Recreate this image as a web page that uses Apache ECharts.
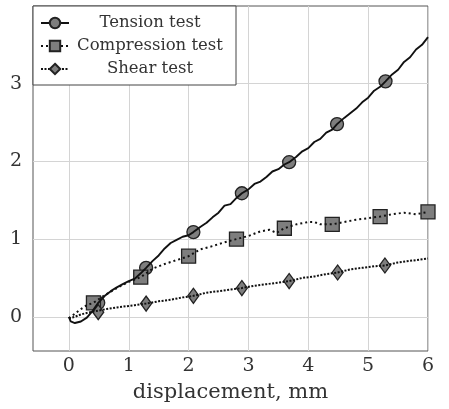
<!DOCTYPE html>
<html><head><meta charset="utf-8">
<script src="https://cdn.jsdelivr.net/npm/echarts@6/dist/echarts.min.js"></script>
<style>html,body{margin:0;padding:0;background:#fff}#c{width:449px;height:409px}</style>
</head><body><div id="c"></div>
<script>
// ---- data ----
var seriesNames = ['Tension test', 'Compression test', 'Shear test'];
var xTicks = [0, 1, 2, 3, 4, 5, 6];
var yTicks = [0, 1, 2, 3];

var tensionX = [0.00,0.03,0.10,0.20,0.30,0.40,0.49,0.60,0.70,0.80,0.90,1.00,1.10,1.20,1.29,1.40,1.50,1.60,1.70,1.80,1.90,2.00,2.08,2.20,2.30,2.40,2.50,2.60,2.70,2.80,2.89,3.00,3.10,3.20,3.30,3.40,3.50,3.60,3.68,3.80,3.90,4.00,4.10,4.20,4.30,4.40,4.48,4.60,4.70,4.80,4.90,5.00,5.10,5.20,5.29,5.40,5.50,5.60,5.70,5.80,5.90,6.00];
var tensionY = [0.00,-0.06,-0.08,-0.06,-0.01,0.08,0.18,0.27,0.33,0.38,0.42,0.46,0.49,0.56,0.63,0.72,0.79,0.88,0.95,0.99,1.03,1.05,1.09,1.16,1.21,1.28,1.34,1.43,1.45,1.53,1.59,1.64,1.71,1.74,1.80,1.87,1.90,1.96,1.99,2.06,2.13,2.17,2.25,2.29,2.37,2.41,2.48,2.56,2.62,2.68,2.76,2.82,2.91,2.96,3.03,3.12,3.18,3.28,3.34,3.44,3.50,3.60];
var tensionMarkX = [0.49,1.29,2.08,2.89,3.68,4.48,5.29];
var tensionMarkY = [0.18,0.63,1.09,1.59,1.99,2.48,3.03];

var compX = [0.00,0.10,0.20,0.30,0.41,0.60,0.80,1.00,1.20,1.40,1.60,1.80,2.00,2.20,2.40,2.60,2.80,3.00,3.20,3.35,3.47,3.60,3.80,4.00,4.10,4.20,4.40,4.60,4.80,5.00,5.20,5.40,5.60,5.80,6.00];
var compY = [-0.02,0.04,0.10,0.15,0.18,0.28,0.37,0.45,0.51,0.62,0.68,0.73,0.78,0.87,0.91,0.96,1.00,1.04,1.10,1.12,1.08,1.14,1.19,1.22,1.22,1.19,1.19,1.22,1.25,1.27,1.29,1.32,1.34,1.32,1.35];
var compMarkX = [0.41,1.20,2.00,2.80,3.60,4.40,5.20,6.00];
var compMarkY = [0.18,0.51,0.78,1.00,1.14,1.19,1.29,1.35];

var shearX = [0.00,0.10,0.20,0.30,0.49,0.63,0.80,1.00,1.10,1.29,1.50,1.70,1.90,2.08,2.30,2.50,2.70,2.89,3.10,3.30,3.50,3.68,3.90,4.10,4.30,4.49,4.70,4.90,5.10,5.28,5.50,5.70,5.90,6.00];
var shearY = [-0.02,0.00,0.03,0.05,0.08,0.10,0.12,0.14,0.15,0.17,0.20,0.22,0.25,0.27,0.31,0.33,0.35,0.37,0.40,0.42,0.44,0.46,0.50,0.52,0.55,0.57,0.61,0.63,0.65,0.66,0.70,0.72,0.74,0.75];
var shearMarkX = [0.49,1.29,2.08,2.89,3.68,4.49,5.28];
var shearMarkY = [0.06,0.17,0.27,0.37,0.46,0.57,0.66];

// ---- build ----
function zip(xs, ys){ return xs.map(function(x,i){ return [x, ys[i]]; }); }
var fontF = 'DejaVu Serif';
var markFill = '#7e7e7e', markBorder = '#222';
var chart = echarts.init(document.getElementById('c'), null, {renderer:'canvas'});

function lineSeries(name, xs, ys, sym, size, dash, width){
  return {
    name: name, type: 'line', data: zip(xs, ys),
    symbol: sym, symbolSize: size, showSymbol: false,
    itemStyle: {color: markFill, borderColor: markBorder, borderWidth: 1.3},
    lineStyle: {color: '#111', width: width, type: dash},
    animation: false, silent: true
  };
}
function markSeries(name, xs, ys, sym, size){
  return {
    name: name, type: 'scatter', data: zip(xs, ys),
    symbol: sym, symbolSize: size,
    itemStyle: {color: markFill, borderColor: markBorder, borderWidth: 1.3, opacity: 1},
    animation: false, silent: true
  };
}

var option = {
  backgroundColor: '#fff',
  grid: {left: 33, right: 21, top: 6, bottom: 58, show: true, borderColor: '#555', borderWidth: 1, backgroundColor: 'transparent'},
  xAxis: {
    type: 'value', min: -0.6, max: 6,
    name: 'displacement, mm', nameLocation: 'middle', nameGap: 31,
    nameTextStyle: {fontFamily: fontF, fontSize: 21, color: '#333'},
    axisLine: {show: false},
    axisTick: {show: false, customValues: xTicks},
    axisLabel: {fontFamily: fontF, fontSize: 19, color: '#333', margin: 6, customValues: xTicks},
    splitLine: {show: true, lineStyle: {color: '#d4d4d4', width: 1}}
  },
  yAxis: {
    type: 'value', min: -0.44, max: 4,
    axisLine: {show: false},
    axisTick: {show: false, customValues: yTicks},
    axisLabel: {fontFamily: fontF, fontSize: 19, color: '#333', margin: 11, customValues: yTicks},
    splitLine: {show: true, lineStyle: {color: '#d4d4d4', width: 1}}
  },
  legend: {
    data: seriesNames, orient: 'vertical', left: 33, top: 6,
    itemWidth: 28, itemHeight: 13, itemGap: 3,
    padding: [7, 10, 6, 7],
    backgroundColor: '#fff', borderColor: '#444', borderWidth: 1,
    formatter: function(n){ return '{a|' + n + '}'; },
    textStyle: {rich: {a: {fontFamily: fontF, fontSize: 16.5, color: '#333', width: 152, align: 'center', height: 20, lineHeight: 20}}},
    selectedMode: false
  },
  series: [
    lineSeries(seriesNames[0], tensionX, tensionY, 'circle', 13, 'solid', 1.9),
    markSeries(seriesNames[0], tensionMarkX, tensionMarkY, 'circle', 13),
    lineSeries(seriesNames[1], compX, compY, 'rect', 14, [2, 3], 2),
    markSeries(seriesNames[1], compMarkX, compMarkY, 'rect', 14),
    lineSeries(seriesNames[2], shearX, shearY, 'diamond', [11, 15], [2, 1.5], 2),
    markSeries(seriesNames[2], shearMarkX, shearMarkY, 'diamond', [11, 15])
  ]
};
chart.setOption(option);
</script></body></html>
